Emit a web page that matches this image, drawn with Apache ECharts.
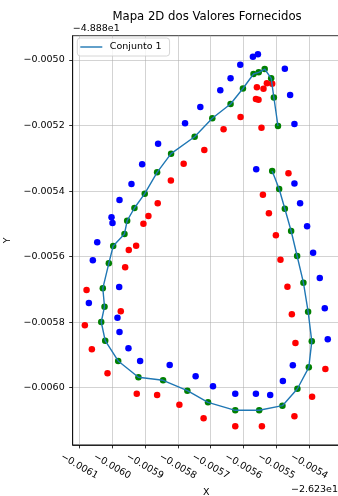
<!DOCTYPE html>
<html>
<head>
<meta charset="utf-8">
<script src="https://cdn.jsdelivr.net/npm/echarts@6/dist/echarts.min.js"></script>
<style>html,body{margin:0;padding:0;background:#fff;}#c{width:338px;height:496px;}</style>
</head>
<body>
<div id="c"></div>
<script>
// Values are offsets: x = -26.23 + value, y = -48.88 + value
const greenX = [-0.0055125,-0.0054912,-0.0054739,-0.0054547,-0.0054365,-0.0054173,-0.0054030,-0.0053918,-0.0054009,-0.0054356,
  -0.0054812,-0.0055520,-0.0056249,-0.0057079,-0.0057708,-0.0058447,-0.0059198,-0.0059815,-0.0060210,-0.0060331,
  -0.0060231,-0.0060283,-0.0060100,-0.0059967,-0.0059623,-0.0059541,-0.0059319,-0.0059006,-0.0058629,-0.0058204,
  -0.0057486,-0.0056948,-0.0056392,-0.0056015,-0.0055693,-0.0055535,-0.0055353,-0.0055155,-0.0055073,-0.0054948];
const greenY = [-0.0053387,-0.0053937,-0.0054538,-0.0055218,-0.0055981,-0.0056796,-0.0057681,-0.0058584,-0.0059378,-0.0060031,
  -0.0060549,-0.0060690,-0.0060690,-0.0060446,-0.0060092,-0.0059774,-0.0059683,-0.0059185,-0.0058566,-0.0057995,
  -0.0057528,-0.0056967,-0.0056204,-0.0055676,-0.0055310,-0.0054904,-0.0054516,-0.0054080,-0.0053427,-0.0052859,
  -0.0052341,-0.0051779,-0.0051343,-0.0050870,-0.0050427,-0.0050375,-0.0050275,-0.0050558,-0.0051144,-0.0052014];
const blueX = [-0.0055559,-0.0055711,-0.0056097,-0.0056392,-0.0054739,-0.0056705,-0.0054578,-0.0057313,-0.0057778,-0.0054447,
  -0.0058599,-0.0059085,-0.0059410,-0.0055611,-0.0054447,-0.0059775,-0.0060018,-0.0059988,-0.0060453,-0.0060587,
  -0.0054274,-0.0054061,-0.0053878,-0.0053675,-0.0059784,-0.0060708,-0.0053523,-0.0059836,-0.0059775,-0.0059502,
  -0.0059146,-0.0058246,-0.0057456,-0.0056927,-0.0056249,-0.0055620,-0.0055185,-0.0054799,-0.0054496,-0.0053432];
const blueY = [-0.0049826,-0.0049899,-0.0050143,-0.0050558,-0.0050265,-0.0050925,-0.0051068,-0.0051434,-0.0051932,-0.0051953,
  -0.0052554,-0.0053183,-0.0053784,-0.0053335,-0.0053769,-0.0054272,-0.0054800,-0.0054974,-0.0055563,-0.0056112,
  -0.0054373,-0.0055075,-0.0055880,-0.0056653,-0.0056927,-0.0057415,-0.0057577,-0.0057864,-0.0058300,-0.0058798,
  -0.0059185,-0.0059307,-0.0059652,-0.0059957,-0.0060183,-0.0060183,-0.0060223,-0.0059796,-0.0059317,-0.0058523];
const redX = [-0.0055590,-0.0055389,-0.0055286,-0.0055125,-0.0055620,-0.0055541,-0.0056088,-0.0055450,-0.0056605,-0.0057192,
  -0.0057821,-0.0058210,-0.0054629,-0.0058611,-0.0058894,-0.0059046,-0.0059268,-0.0059492,-0.0059602,-0.0055407,
  -0.0055225,-0.0055012,-0.0054872,-0.0054660,-0.0060778,-0.0059736,-0.0060830,-0.0060617,-0.0060140,-0.0059249,
  -0.0058629,-0.0057951,-0.0057213,-0.0056249,-0.0055438,-0.0054447,-0.0053909,-0.0053505,-0.0054416,-0.0054526];
const redY = [-0.0050833,-0.0050876,-0.0050711,-0.0050723,-0.0051190,-0.0051212,-0.0051739,-0.0052066,-0.0052115,-0.0052746,
  -0.0053165,-0.0053677,-0.0053458,-0.0054373,-0.0054761,-0.0054996,-0.0055667,-0.0055798,-0.0056326,-0.0054111,
  -0.0054678,-0.0055350,-0.0056094,-0.0056918,-0.0057019,-0.0057669,-0.0058096,-0.0058828,-0.0059561,-0.0060183,
  -0.0060223,-0.0060519,-0.0060934,-0.0061178,-0.0061178,-0.0060873,-0.0060275,-0.0059429,-0.0058636,-0.0057760];
const xTicks = [-0.0061,-0.0060,-0.0059,-0.0058,-0.0057,-0.0056,-0.0055,-0.0054];
const yTicks = [-0.0060,-0.0058,-0.0056,-0.0054,-0.0052,-0.0050];
const xOffsetText = '\u22122.623e1';
const yOffsetText = '\u22124.888e1';
const seriesName = 'Conjunto 1';
const titleText = 'Mapa 2D dos Valores Fornecidos';

function zip(a, b) { return a.map((v, i) => [v, b[i]]); }
const allX = greenX.concat(blueX, redX), allY = greenY.concat(blueY, redY);
function ext(arr) {
  const lo = Math.min.apply(null, arr), hi = Math.max.apply(null, arr), m = (hi - lo) * 0.05;
  return [lo - m, hi + m];
}
const xe = ext(allX), ye = ext(allY);
function fmt(v) { return (v < 0 ? '\u2212' : '') + Math.abs(v).toFixed(4); }

const FONT = 'DejaVu Sans';
const chart = echarts.init(document.getElementById('c'), null, { renderer: 'canvas' });
chart.setOption({
  animation: false,
  backgroundColor: '#ffffff',
  textStyle: { fontFamily: FONT },
  title: {
    text: titleText, left: 202, textAlign: 'center', top: 6,
    textStyle: { fontFamily: FONT, fontSize: 11.7, fontWeight: 'normal', color: '#000' }
  },
  grid: {
    left: 72.7, top: 35.7, width: 267.2, height: 409.2,
    outerBoundsMode: 'none', containLabel: false,
    show: true, borderColor: '#000', borderWidth: 0.8, backgroundColor: 'transparent'
  },
  legend: {
    data: [seriesName], left: 77.3, top: 38, orient: 'vertical',
    icon: 'rect', itemWidth: 22, itemHeight: 1.4,
    padding: [4, 8, 4, 3],
    backgroundColor: 'rgba(255,255,255,0.8)', borderColor: '#cccccc', borderWidth: 0.8, borderRadius: 3,
    textStyle: { fontFamily: FONT, fontSize: 9.5, color: '#000', padding: [0, 0, 0, 2.5] }
  },
  xAxis: {
    type: 'value', min: xe[0], max: xe[1],
    name: 'X', nameLocation: 'middle', nameGap: 40,
    nameTextStyle: { fontFamily: FONT, fontSize: 9.5, color: '#000', verticalAlign: 'middle' },
    axisLine: { show: true, lineStyle: { color: '#000', width: 0.8 } },
    axisTick: { show: true, customValues: xTicks, length: 3.5, lineStyle: { color: '#000', width: 0.8 } },
    axisLabel: {
      customValues: xTicks, rotate: -30, align: 'center', verticalAlign: 'middle', margin: 21.4,
      fontFamily: FONT, fontSize: 9.5, color: '#000', formatter: fmt, showMinLabel: true, showMaxLabel: true
    },
    splitLine: { show: true, lineStyle: { color: '#b0b0b0', width: 0.8, opacity: 0.7 } }
  },
  yAxis: {
    type: 'value', min: ye[0], max: ye[1],
    name: 'Y', nameLocation: 'middle', nameGap: 54, nameRotate: 90,
    nameTextStyle: { fontFamily: FONT, fontSize: 9.5, color: '#000' },
    axisLine: { show: true, lineStyle: { color: '#000', width: 0.8 } },
    axisTick: { show: true, customValues: yTicks, length: 3.5, lineStyle: { color: '#000', width: 0.8 } },
    axisLabel: { customValues: yTicks, margin: 8, fontFamily: FONT, fontSize: 9.5, color: '#000', formatter: fmt },
    splitLine: { show: true, lineStyle: { color: '#b0b0b0', width: 0.8, opacity: 0.7 } }
  },
  graphic: [
    { type: 'text', left: 72.7, top: 23.5, style: { text: yOffsetText, font: '9.5px "DejaVu Sans"', fill: '#000' } },
    { type: 'text', right: 0, top: 484.5, style: { text: xOffsetText, font: '9.5px "DejaVu Sans"', fill: '#000' } }
  ],
  series: [
    { name: 'blue', type: 'scatter', data: zip(blueX, blueY), symbolSize: 6.5, itemStyle: { color: '#0000ff', opacity: 1 }, z: 2 },
    { name: 'red', type: 'scatter', data: zip(redX, redY), symbolSize: 6.5, itemStyle: { color: '#ff0000', opacity: 1 }, z: 2 },
    { name: 'green', type: 'scatter', data: zip(greenX, greenY), symbolSize: 6.5, itemStyle: { color: '#008000', opacity: 1 }, z: 2 },
    { name: seriesName, type: 'line', data: zip(greenX, greenY), symbol: 'none', z: 3,
      lineStyle: { color: '#1f77b4', width: 1.4 }, itemStyle: { color: '#1f77b4' } }
  ]
});
</script>
</body>
</html>
